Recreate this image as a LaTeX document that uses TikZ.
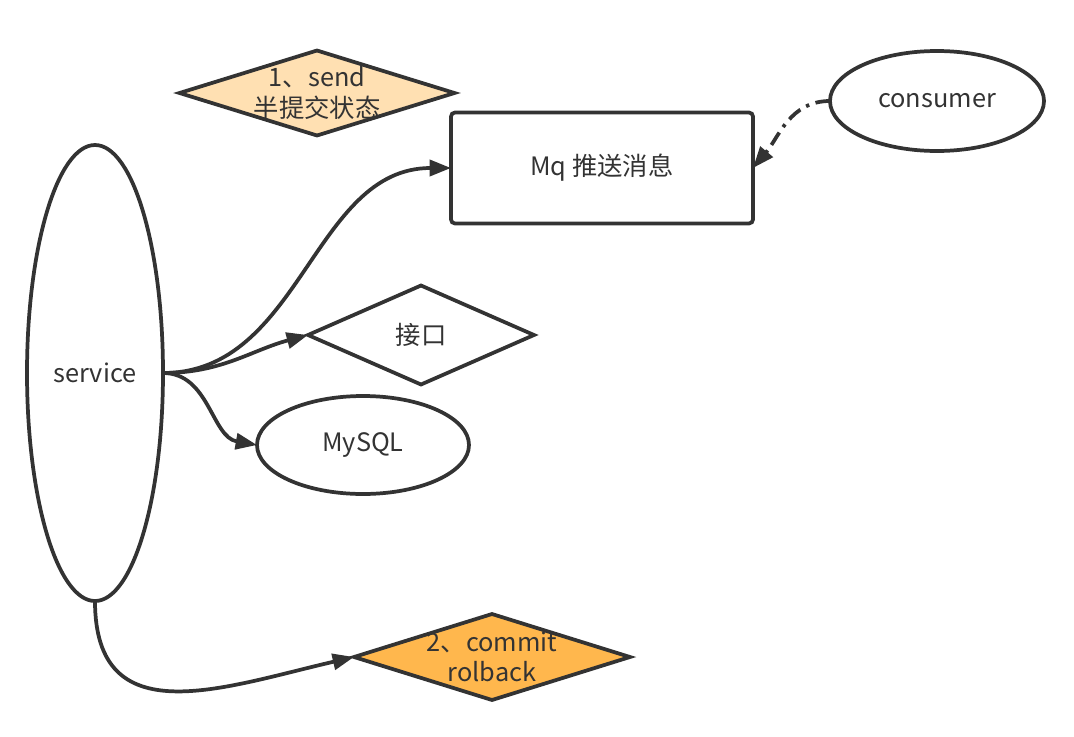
\documentclass[tikz,border=0pt]{standalone}
\usepackage{fontspec}
\setmainfont{Noto Sans CJK SC}
\usetikzlibrary{shapes.geometric,arrows.meta}
\definecolor{ink}{HTML}{333333}
\definecolor{lightorange}{HTML}{FFE0B2}
\definecolor{darkorange}{HTML}{FFB74D}
\newcommand{\px}{0.75pt}
\tikzset{
  box/.style={draw=ink, line width=2.8pt, text=ink, inner sep=0pt, outer sep=0pt},
  oval/.style={box, ellipse},
  rhombus/.style={box, diamond},
  conn/.style={draw=ink, line width=2.8pt, -{Triangle[length=16pt,width=12pt]}},
}
\begin{document}
\begin{tikzpicture}[x=0.75pt, y=-0.75pt, font=\fontsize{19}{23}\selectfont]
\useasboundingbox (0,0) rectangle (1074,736);
% shapes
\node[oval, minimum width=136*\px, minimum height=456*\px] (service) at (95,373) {service};
\node[rhombus, fill=lightorange, minimum width=275*\px, minimum height=85*\px,
  label={[align=center, text=ink]center:1、send\\半提交状态}] (send) at (317,93) {};
\node[box, rounded corners=3pt, minimum width=302*\px, minimum height=111*\px] (mq) at (602,168) {Mq 推送消息};
\node[oval, minimum width=214*\px, minimum height=100*\px] (consumer) at (937,101) {consumer};
\node[rhombus, minimum width=226*\px, minimum height=99*\px] (api) at (421,335) {};
\node[text=ink] (apitext) at (421,335) {接口};
\node[oval, minimum width=212*\px, minimum height=98*\px] (mysql) at (363,445) {MySQL};
\node[rhombus, fill=darkorange, minimum width=276*\px, minimum height=86*\px,
  label={[align=center, text=ink]center:2、commit\\rolback}] (commit) at (492,657) {};
% connectors
\draw[conn] (service.east) to[out=0, in=180] (mq.west);
\draw[conn] (service.east) to[out=0, in=195] (api.west);
\draw[conn] (service.east) to[out=0, in=170] (mysql.west);
\draw[conn] (service.south) to[out=-90, in=193, looseness=1.3] (commit.west);
\draw[conn, dash pattern=on 11pt off 5pt on 2.5pt off 5pt] (consumer.west) to[out=180, in=50] (mq.east);
\end{tikzpicture}
\end{document}
